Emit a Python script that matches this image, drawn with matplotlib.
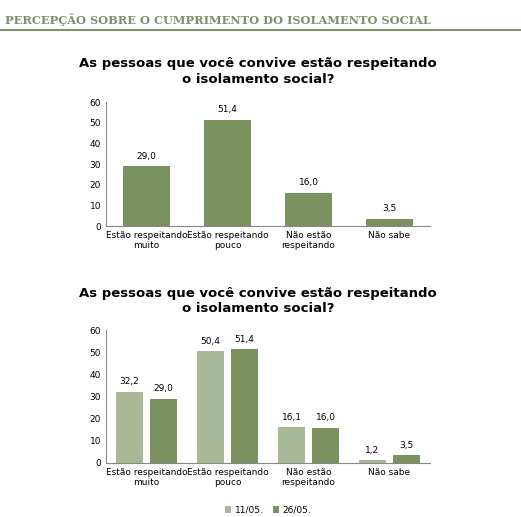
import numpy as np
import matplotlib.pyplot as plt

categories = ["Estão respeitando\nmuito", "Estão respeitando\npouco",
              "Não estão\nrespeitando", "Não sabe"]
values_2605 = [29.0, 51.4, 16.0, 3.5]
values_1105 = [32.2, 50.4, 16.1, 1.2]
series_labels = ["11/05.", "26/05."]

dark = "#7a9160"
light = "#a9b897"
W, H = 521, 517

fig = plt.figure(figsize=(W / 100, H / 100), dpi=100)

# header
fig.text(5 / W, 1 - 20 / H, "PERCEPÇÃO SOBRE O CUMPRIMENTO DO ISOLAMENTO SOCIAL",
         family="DejaVu Serif", weight="bold", fontsize=8.2, color="#7f8f6a",
         va="center")
fig.add_artist(plt.Line2D([0, 1], [1 - 30 / H] * 2, color="#7f8f6a", lw=1.5))

title = "As pessoas que você convive estão respeitando\no isolamento social?"


def style(ax):
    ax.set_ylim(0, 60)
    ax.set_yticks(range(0, 61, 10))
    ax.set_xlim(-0.5, 3.5)
    ax.set_xticks(range(4))
    ax.set_xticklabels(categories, fontsize=6.5)
    ax.tick_params(axis="y", labelsize=6.5, length=0)
    ax.tick_params(axis="x", length=0)
    for s in ["top", "right"]:
        ax.spines[s].set_visible(False)
    ax.spines["left"].set_color("#888888")
    ax.spines["bottom"].set_color("#888888")


# chart 1
ax1 = fig.add_axes([106 / W, 1 - 226 / H, 324 / W, 124 / H])
x = np.arange(len(categories))
b = ax1.bar(x, values_2605, width=0.57, color=dark)
ax1.bar_label(b, labels=[f"{v:.1f}".replace(".", ",") for v in values_2605],
              padding=4, fontsize=6.5)
style(ax1)
fig.text(258 / W, 1 - 71 / H, title, ha="center", va="center",
         fontsize=9.5, weight="bold", linespacing=1.3)

# chart 2
ax2 = fig.add_axes([106 / W, 1 - 463 / H, 324 / W, 133 / H])
w = 0.34
b1 = ax2.bar(x - 0.21, values_1105, width=w, color=light, label=series_labels[0])
b2 = ax2.bar(x + 0.21, values_2605, width=w, color=dark, label=series_labels[1])
for bb, vals in [(b1, values_1105), (b2, values_2605)]:
    ax2.bar_label(bb, labels=[f"{v:.1f}".replace(".", ",") for v in vals],
                  padding=4, fontsize=6.5)
style(ax2)
fig.text(258 / W, 1 - 301 / H, title, ha="center", va="center",
         fontsize=9.5, weight="bold", linespacing=1.3)
fig.legend(loc="center", bbox_to_anchor=(268 / W, 1 - 510 / H), ncol=2,
           frameon=False, fontsize=6.5, handlelength=0.7, handleheight=0.7,
           columnspacing=1.0, handletextpad=0.4)

fig.savefig("out.png", dpi=100)
